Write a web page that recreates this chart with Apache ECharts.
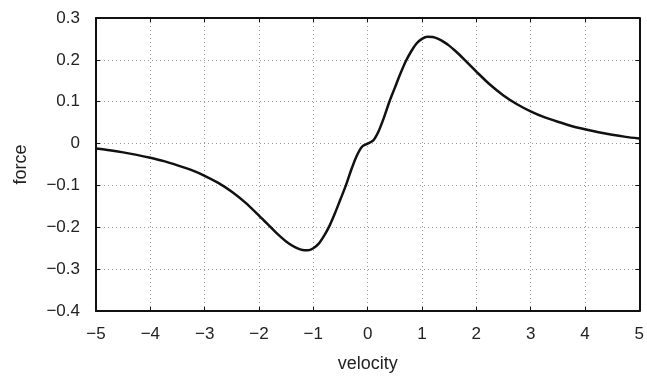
<!DOCTYPE html>
<html>
<head>
<meta charset="utf-8">
<style>
  html, body { margin: 0; padding: 0; background: #fff; }
  #chart { width: 647px; height: 378px; }
</style>
<script src="https://cdn.jsdelivr.net/npm/echarts@6/dist/echarts.min.js"></script>
</head>
<body>
<div id="chart"></div>
<script>
const velocity = [
  -5.0, -4.75, -4.5, -4.25, -4.0, -3.75, -3.5, -3.25, -3.0, -2.75, -2.5, -2.25,
  -2.0, -1.9, -1.8, -1.7, -1.6, -1.5, -1.4, -1.3, -1.2, -1.1, -1.0, -0.9, -0.8, -0.7,
  -0.6, -0.5, -0.4, -0.3, -0.2, -0.1, 0.0,
  0.1, 0.2, 0.3, 0.4, 0.5, 0.6, 0.7, 0.8, 0.9, 1.0, 1.1, 1.2, 1.3, 1.4, 1.5, 1.6,
  1.7, 1.8, 1.9, 2.0,
  2.25, 2.5, 2.75, 3.0, 3.25, 3.5, 3.75, 4.0, 4.25, 4.5, 4.75, 5.0
];
const force = [
  -0.012, -0.016, -0.021, -0.027, -0.034, -0.042, -0.052, -0.063, -0.077, -0.094, -0.115, -0.141,
  -0.172, -0.185, -0.198, -0.211, -0.223, -0.234, -0.243, -0.250, -0.2545, -0.255, -0.250, -0.239, -0.220, -0.196,
  -0.166, -0.133, -0.100, -0.062, -0.029, -0.007, 0.0,
  0.007, 0.029, 0.062, 0.100, 0.133, 0.166, 0.196, 0.220, 0.239, 0.250, 0.255, 0.2545, 0.250, 0.243, 0.234, 0.223,
  0.211, 0.198, 0.185, 0.172,
  0.141, 0.115, 0.094, 0.077, 0.063, 0.052, 0.042, 0.034, 0.027, 0.021, 0.016, 0.012
];
const xTicks = { min: -5, max: 5, step: 1 };
const yTicks = { min: -0.4, max: 0.3, step: 0.1 };

const fmt = v => {
  const r = Math.round(v * 10) / 10;
  if (Math.abs(r) < 1e-9) return '0';
  const s = Math.abs(r).toString();
  return (r < 0 ? '\u2212' : '') + s;
};

const textStyle = { fontFamily: 'Liberation Sans, Arial, sans-serif', fontSize: 17, color: '#222' };
const nameStyle = { fontFamily: 'Liberation Sans, Arial, sans-serif', fontSize: 18, color: '#222' };
const lineStyle = { color: '#111', width: 2 };
const gridLine = { show: true, lineStyle: { color: '#9a9a9a', width: 1, type: [1, 3] } };
const tick = { show: true, inside: true, length: 4, lineStyle: { color: '#111', width: 1 } };

const chart = echarts.init(document.getElementById('chart'), null, { renderer: 'canvas' });
chart.setOption({
  animation: false,
  backgroundColor: '#fff',
  grid: { left: 96, right: 1, top: 18, bottom: 61, containLabel: false },
  xAxis: [
    {
      type: 'value', min: xTicks.min, max: xTicks.max, interval: xTicks.step,
      position: 'bottom',
      name: 'velocity', nameLocation: 'middle', nameGap: 44,
      nameTextStyle: nameStyle,
      axisLine: { show: true, onZero: false, lineStyle: lineStyle },
      axisTick: tick,
      axisLabel: Object.assign({ margin: 15, formatter: fmt }, textStyle),
      splitLine: gridLine
    },
    {
      type: 'value', min: xTicks.min, max: xTicks.max, interval: xTicks.step,
      position: 'top',
      axisLine: { show: true, onZero: false, lineStyle: lineStyle },
      axisTick: tick,
      axisLabel: { show: false },
      splitLine: { show: false }
    }
  ],
  yAxis: [
    {
      type: 'value', min: yTicks.min, max: yTicks.max, interval: yTicks.step,
      position: 'left',
      name: 'force', nameLocation: 'middle', nameGap: 66,
      nameTextStyle: nameStyle,
      axisLine: { show: true, onZero: false, lineStyle: lineStyle },
      axisTick: tick,
      axisLabel: Object.assign({ margin: 16, formatter: fmt }, textStyle),
      splitLine: gridLine
    },
    {
      type: 'value', min: yTicks.min, max: yTicks.max, interval: yTicks.step,
      position: 'right',
      axisLine: { show: true, onZero: false, lineStyle: lineStyle },
      axisTick: tick,
      axisLabel: { show: false },
      splitLine: { show: false }
    }
  ],
  series: [{
    type: 'line',
    xAxisIndex: 0, yAxisIndex: 0,
    data: velocity.map((v, i) => [v, force[i]]),
    showSymbol: false,
    smooth: 0.25,
    lineStyle: { color: '#111', width: 2.5 },
    clip: true
  }]
});
</script>
</body>
</html>
